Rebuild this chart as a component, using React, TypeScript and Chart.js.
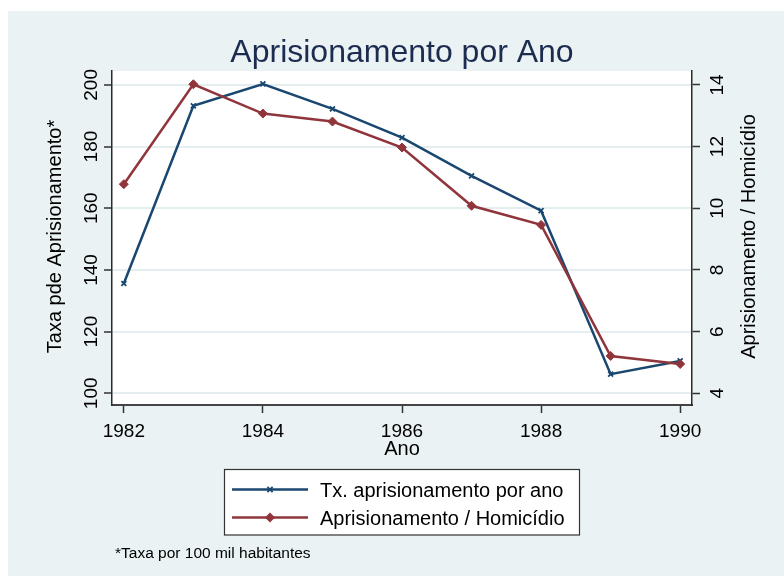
import React, { useEffect, useRef } from 'react';
import { Chart, registerables } from 'chart.js';

Chart.register(...registerables);

// ---- data ----
const years = [1982, 1983, 1984, 1985, 1986, 1987, 1988, 1989, 1990];
const taxaAprisionamento = [135.6, 193.2, 200.3, 192.2, 182.9, 170.5, 159.2, 106.2, 110.5];
const aprisionamentoHomicidio = [10.78, 14.02, 13.07, 12.81, 11.97, 10.08, 9.46, 5.21, 4.95];
const xTicks = [1982, 1984, 1986, 1988, 1990];
const leftTicks = [100, 120, 140, 160, 180, 200];
const rightTicks = [4, 6, 8, 10, 12, 14];
const titleText = 'Aprisionamento por Ano';
const xTitle = 'Ano';
const leftTitle = 'Taxa pde Aprisionamento*';
const rightTitle = 'Aprisionamento / Homicídio';
const seriesLabels = ['Tx. aprisionamento por ano', 'Aprisionamento / Homicídio'];
const footnote = '*Taxa por 100 mil habitantes';

// ---- styles ----
const BLUE = '#1a476f';
const RED = '#90353b';
const BG = '#eaf2f3';
const GRID = '#e4edef';
const AXIS = '#2a2a2a';
const FONT = '"Liberation Sans", Arial, Helvetica, sans-serif';

const decor = {
  id: 'decor',
  beforeDraw(chart: any) {
    const ctx = chart.ctx;
    const { width, height } = chart;
    const a = chart.chartArea;
    ctx.save();
    ctx.fillStyle = '#ffffff';
    ctx.fillRect(0, 0, width, height);
    ctx.fillStyle = BG;
    ctx.fillRect(8, 11, width - 8, height - 11);
    ctx.fillStyle = '#ffffff';
    ctx.fillRect(a.left, a.top, a.right - a.left, a.bottom - a.top);
    ctx.restore();
  },
  afterDraw(chart: any) {
    const ctx = chart.ctx;
    const a = chart.chartArea;
    const sx = chart.scales.x;
    const sy = chart.scales.y;
    const sy1 = chart.scales.y1;
    const midY = 236.5;
    ctx.save();

    // title
    ctx.fillStyle = '#1c2b50';
    ctx.font = `32px ${FONT}`;
    ctx.textAlign = 'center';
    ctx.textBaseline = 'alphabetic';
    ctx.fillText(titleText, (a.left + a.right) / 2, 61.5);

    // x tick labels
    ctx.fillStyle = '#000';
    ctx.font = `19px ${FONT}`;
    xTicks.forEach((v) => {
      ctx.fillText(String(v), sx.getPixelForValue(v), 436.5);
    });
    // x title
    ctx.font = `20px ${FONT}`;
    ctx.fillText(xTitle, (a.left + a.right) / 2, 455);

    // left tick labels (rotated)
    ctx.font = `19px ${FONT}`;
    leftTicks.forEach((v) => {
      ctx.save();
      ctx.translate(97, sy.getPixelForValue(v));
      ctx.rotate(-Math.PI / 2);
      ctx.fillText(String(v), 0, 0);
      ctx.restore();
    });
    // right tick labels (rotated)
    rightTicks.forEach((v) => {
      ctx.save();
      ctx.translate(723, sy1.getPixelForValue(v));
      ctx.rotate(-Math.PI / 2);
      ctx.fillText(String(v), 0, 0);
      ctx.restore();
    });

    // axis titles
    ctx.font = `20px ${FONT}`;
    ctx.save();
    ctx.translate(61, midY);
    ctx.rotate(-Math.PI / 2);
    ctx.fillText(leftTitle, 0, 0);
    ctx.restore();
    ctx.save();
    ctx.translate(754.5, midY);
    ctx.rotate(-Math.PI / 2);
    ctx.fillText(rightTitle, 0, 0);
    ctx.restore();

    // legend
    ctx.fillStyle = '#ffffff';
    ctx.fillRect(224, 469, 355, 66);
    ctx.strokeStyle = '#333';
    ctx.lineWidth = 1.2;
    ctx.strokeRect(224.5, 469.5, 355, 65.5);
    const rows = [489.5, 517.5];
    const colors = [BLUE, RED];
    rows.forEach((ry, i) => {
      ctx.strokeStyle = colors[i];
      ctx.lineWidth = 2.5;
      ctx.beginPath();
      ctx.moveTo(232, ry);
      ctx.lineTo(308, ry);
      ctx.stroke();
      if (i === 0) {
        ctx.lineWidth = 1.8;
        const r = 2.6;
        ctx.beginPath();
        ctx.moveTo(270 - r, ry - r);
        ctx.lineTo(270 + r, ry + r);
        ctx.moveTo(270 - r, ry + r);
        ctx.lineTo(270 + r, ry - r);
        ctx.stroke();
      } else {
        const r = 5;
        ctx.fillStyle = RED;
        ctx.beginPath();
        ctx.moveTo(270, ry - r);
        ctx.lineTo(270 + r, ry);
        ctx.lineTo(270, ry + r);
        ctx.lineTo(270 - r, ry);
        ctx.closePath();
        ctx.fill();
      }
      ctx.fillStyle = '#000';
      ctx.font = `20px ${FONT}`;
      ctx.textAlign = 'left';
      ctx.textBaseline = 'alphabetic';
      ctx.fillText(seriesLabels[i], 320, ry + 7.5);
    });

    // footnote
    ctx.font = `15.5px ${FONT}`;
    ctx.fillStyle = '#000';
    ctx.textAlign = 'left';
    ctx.fillText(footnote, 115, 557.5);

    ctx.restore();
  },
};

export default function App() {
  const ref = useRef<HTMLCanvasElement | null>(null);

  useEffect(() => {
    document.body.style.margin = '0';
    const canvas = ref.current;
    if (!canvas) return;
    const chart = new Chart(canvas, {
      type: 'line',
      data: {
        datasets: [
          {
            label: seriesLabels[0],
            data: years.map((y, i) => ({ x: y, y: taxaAprisionamento[i] })),
            yAxisID: 'y',
            borderColor: BLUE,
            backgroundColor: BLUE,
            borderWidth: 2.5,
            pointStyle: 'crossRot',
            pointRadius: 3.5,
            pointBorderWidth: 1.8,
            pointBorderColor: BLUE,
            tension: 0,
            order: 1,
          },
          {
            label: seriesLabels[1],
            data: years.map((y, i) => ({ x: y, y: aprisionamentoHomicidio[i] })),
            yAxisID: 'y1',
            borderColor: RED,
            backgroundColor: RED,
            borderWidth: 2.5,
            pointStyle: 'rectRot',
            pointRadius: 4.5,
            pointBorderWidth: 1,
            pointBorderColor: RED,
            pointBackgroundColor: RED,
            tension: 0,
            order: 0,
          },
        ],
      },
      options: {
        responsive: false,
        animation: false,
        events: [],
        layout: { padding: { top: 71, left: 0, right: 0, bottom: 0 } },
        plugins: {
          legend: { display: false },
          title: { display: false },
          tooltip: { enabled: false },
        },
        scales: {
          x: {
            type: 'linear',
            position: 'bottom',
            min: 1981.83,
            max: 1990.17,
            afterBuildTicks: (s: any) => {
              s.ticks = xTicks.map((v) => ({ value: v }));
            },
            afterFit: (s: any) => {
              s.height = 171;
            },
            ticks: { display: false },
            grid: {
              drawOnChartArea: false,
              drawTicks: true,
              tickLength: 8,
              tickColor: '#333',
              tickWidth: 1.5,
            },
            border: { display: true, color: '#444', width: 2 },
          },
          y: {
            type: 'linear',
            position: 'left',
            min: 96.2,
            max: 204.5,
            afterBuildTicks: (s: any) => {
              s.ticks = leftTicks.map((v) => ({ value: v }));
            },
            afterFit: (s: any) => {
              s.width = 112;
            },
            ticks: { display: false },
            grid: {
              color: GRID,
              lineWidth: 2,
              drawTicks: true,
              tickLength: 8,
              tickColor: '#333',
              tickWidth: 1.5,
            },
            border: { display: true, color: AXIS, width: 1.5 },
          },
          y1: {
            type: 'linear',
            position: 'right',
            min: 3.62,
            max: 14.45,
            afterBuildTicks: (s: any) => {
              s.ticks = rightTicks.map((v) => ({ value: v }));
            },
            afterFit: (s: any) => {
              s.width = 92;
            },
            ticks: { display: false },
            grid: {
              drawOnChartArea: false,
              drawTicks: true,
              tickLength: 8,
              tickColor: '#333',
              tickWidth: 1.5,
            },
            border: { display: true, color: AXIS, width: 1.5 },
          },
        },
      },
      plugins: [decor],
    } as any);
    return () => chart.destroy();
  }, []);

  return <canvas ref={ref} width={784} height={576} style={{ display: 'block' }} />;
}
